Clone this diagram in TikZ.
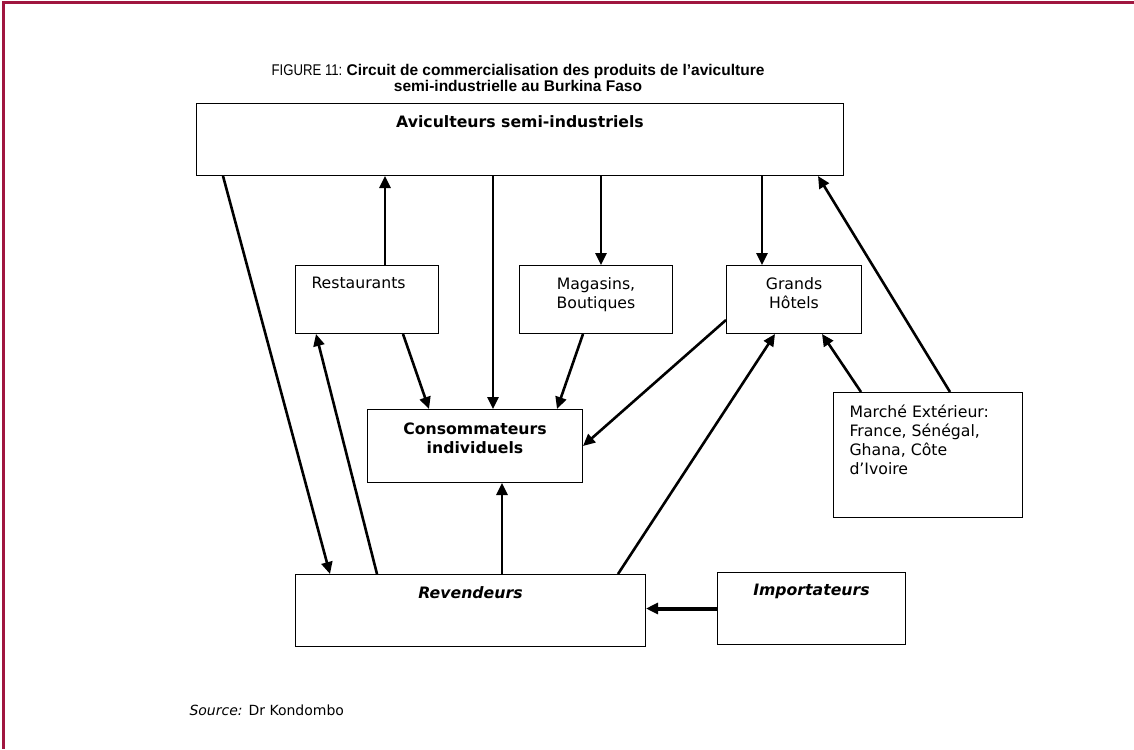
\documentclass[tikz,border=0pt]{standalone}
\usepackage{fontspec}
\setmainfont{DejaVu Sans}
\newfontfamily\capfont{Liberation Sans}
\usetikzlibrary{arrows.meta, positioning, calc}
\definecolor{cframe}{HTML}{A0163F}
\tikzset{
  every picture/.style={line width=1pt},
  box/.style={draw, line width=1pt, anchor=north west, inner sep=0pt},
  txt/.style={anchor=north, inner sep=0pt, align=center, font=\fontsize{15.7}{19}\selectfont},
  arrow/.style={-{Triangle[length=12pt, width=11pt]}, line width=2.6pt},
}

\begin{document}
\begin{tikzpicture}[x=1pt, y=-1pt]
  \useasboundingbox (0,0) rectangle (1134,749);
  % frame of the page
  \draw[cframe, line width=3pt] (1134,3) -- (3,3) -- (3,749);

  % caption
  \node[align=center, inner sep=0pt, anchor=north, font=\capfont\fontsize{15.5}{16}\selectfont] (title) at (518,64)
    {\scalebox{0.85}[1]{FIGURE 11:} \textbf{Circuit de commercialisation des produits de l’aviculture}\\
     \textbf{semi-industrielle au Burkina Faso}};

  % boxes
  \node[box, minimum width=647pt, minimum height=72pt] (avic) at (196,103) {};
  \node[box, minimum width=143pt, minimum height=68pt] (rest) at (295,265) {};
  \node[box, minimum width=153pt, minimum height=68pt] (maga) at (519,265) {};
  \node[box, minimum width=135pt, minimum height=68pt] (hotel) at (726,265) {};
  \node[box, minimum width=215pt, minimum height=73pt] (cons) at (367,409) {};
  \node[box, minimum width=189pt, minimum height=125pt] (march) at (833,392) {};
  \node[box, minimum width=350pt, minimum height=72pt] (reven) at (295,574) {};
  \node[box, minimum width=188pt, minimum height=72pt] (impo) at (717,572) {};

  % texts
  \node[txt, font=\fontsize{15.7}{19}\selectfont\bfseries] (avictxt) at ([yshift=-12pt]avic.north) {Aviculteurs semi-industriels};
  \node[txt, anchor=north west] (resttxt) at ([shift={(16pt,-12pt)}]rest.north west) {Restaurants};
  \node[txt] (magatxt) at ([yshift=-12pt]maga.north) {Magasins,\\Boutiques};
  \node[txt] (hoteltxt) at ([yshift=-12pt]hotel.north) {Grands\\Hôtels};
  \node[txt, font=\fontsize{15.7}{19}\selectfont\bfseries] (constxt) at ([yshift=-13pt]cons.north) {Consommateurs\\individuels};
  \node[txt, anchor=north west, align=left] (marchtxt) at ([shift={(16pt,-12pt)}]march.north west)
    {Marché Extérieur:\\France, Sénégal,\\Ghana, Côte\\d’Ivoire};
  \node[txt, font=\fontsize{15.7}{19}\selectfont\bfseries\itshape] (reventxt) at ([yshift=-12pt]reven.north) {Revendeurs};
  \node[txt, font=\fontsize{15.7}{19}\selectfont\bfseries\itshape] (impotxt) at ([yshift=-12pt]impo.north) {Importateurs};

  % source
  \node[anchor=base west, inner sep=0pt, font=\fontsize{14}{16}\selectfont] (src) at (189,715) {\textit{Source:} Dr Kondombo};

  % connection points
  \coordinate (c1) at ($(cons.north west)+(126,0)$);
  \coordinate (c2) at ($(maga.north west)+(82,0)$);
  \coordinate (c3) at ($(hotel.north west)+(36,0)$);
  \coordinate (c4) at ($(rest.north west)+(90,0)$);
  \coordinate (c5) at ($(reven.north west)+(207,0)$);

  % arrows
  \draw[arrow] ($(avic.south west)+(27,0)$) -- ($(reven.north west)+(35,0)$);
  \draw[arrow] (c4) -- (c4 |- avic.south);
  \draw[arrow] (avic.south -| c1) -- (c1);
  \draw[arrow] (avic.south -| c2) -- (c2);
  \draw[arrow] (avic.south -| c3) -- (c3);
  \draw[arrow] ($(rest.south west)+(108,0)$) -- ($(cons.north west)+(62,0)$);
  \draw[arrow] ($(maga.south west)+(64,0)$) -- ($(cons.north west)+(190,0)$);
  \draw[arrow] ($(hotel.south west)+(0,-14)$) -- (cons.east);
  \draw[arrow] (c5) -- (c5 |- cons.south);
  \draw[arrow] ($(reven.north west)+(82,0)$) -- ($(rest.south west)+(21,0)$);
  \draw[arrow] ($(reven.north east)+(-28,0)$) -- ($(hotel.south west)+(49,0)$);
  \draw[arrow] ($(march.north west)+(28,0)$) -- ($(hotel.south west)+(96,0)$);
  \draw[arrow] ($(march.north west)+(117,0)$) -- ($(avic.south east)+(-26,0)$);
  \draw[arrow, line width=4pt] (impo.west) -- (impo.west -| reven.east);
\end{tikzpicture}
\end{document}
